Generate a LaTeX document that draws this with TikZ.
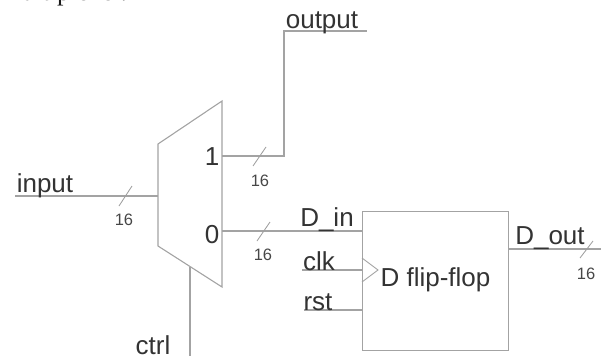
\documentclass[tikz,border=0pt]{standalone}
\usepackage{fontspec}
\setmainfont{Liberation Sans}
\newfontfamily\serifcut{Liberation Serif}
\tikzset{
  wire/.style={draw=black!36,line width=1.1pt},
  thinwire/.style={draw=black!38,line width=.85pt},
  big/.style={text=black!80,font=\fontsize{26}{26}\selectfont,inner sep=0pt,anchor=base},
  small/.style={text=black!72,font=\fontsize{16.5}{16.5}\selectfont,inner sep=0pt,anchor=base},
}
\begin{document}
\begin{tikzpicture}[x=1pt,y=-1pt]
\useasboundingbox (0,0) rectangle (603,356);
\begin{scope}
\clip (0,0) rectangle (603,356);
\node[inner sep=0pt,anchor=base west,text=black!90,font=\serifcut\fontsize{26}{26}\selectfont] (head) at (2,0.5) {multiplexer.};
\coordinate (mA) at (158,144);
\coordinate (mB) at (222,101);
\coordinate (mC) at (222,287);
\coordinate (mD) at (158,246);
\draw[wire] (mA)--(mB)--(mC)--(mD)--cycle;
\coordinate (inS) at (15,196);
\coordinate (inE) at (158,196);
\draw[wire] (inS)--(inE);
\coordinate (a1) at (119,206); \coordinate (a2) at (132,186);
\draw[thinwire] (a1)--(a2);
\coordinate (cT) at (190,267); \coordinate (cB) at (190,356);
\draw[wire] (cT)--(cB);
\coordinate (o0) at (222,156); \coordinate (o1) at (284,156); \coordinate (o2) at (284,31); \coordinate (o3) at (367,31);
\draw[wire] (o0)--(o1)--(o2)--(o3);
\coordinate (b1) at (253,166); \coordinate (b2) at (266,147);
\draw[thinwire] (b1)--(b2);
\node[draw=black!36,line width=1.1pt,minimum width=146pt,minimum height=139pt,inner sep=0pt,anchor=north west] (ff) at (362,211) {};
\coordinate (d0) at (222,231);
\draw[wire] (d0)--(ff.west |- d0);
\coordinate (c1) at (257,241); \coordinate (c2) at (270,222);
\draw[thinwire] (c1)--(c2);
\coordinate (clkS) at (302,270);
\draw[wire] (clkS)--(ff.west |- clkS);
\coordinate (rstS) at (304,310);
\draw[wire] (rstS)--(ff.west |- rstS);
\coordinate (t1) at (362,258); \coordinate (t2) at (378,270); \coordinate (t3) at (362,282);
\draw[thinwire] (t1)--(t2)--(t3);
\coordinate (q0) at (508,249); \coordinate (q1) at (601,249);
\draw[wire] (q0)--(q1);
\coordinate (e1) at (580,258); \coordinate (e2) at (593,241);
\draw[thinwire] (e1)--(e2);
\node[big] (tOut) at (322,28) {output};
\node[big] (tIn) at (45,192) {input};
\node[big] (tOne) at (212,165) {1};
\node[big] (tZero) at (212,243) {0};
\node[big] (tCtrl) at (153,354) {ctrl};
\node[big] (tDin) at (327,226) {D\_in};
\node[big] (tClk) at (319,270) {clk};
\node[big] (tRst) at (318,310) {rst};
\node[big] (tFF) at (435.5,286) {D flip-flop};
\node[big] (tDout) at (550,244) {D\_out};
\node[small] (n1) at (124,225) {16};
\node[small] (n2) at (260,186) {16};
\node[small] (n3) at (263,260) {16};
\node[small] (n4) at (586,279) {16};
\end{scope}
\end{tikzpicture}
\end{document}
